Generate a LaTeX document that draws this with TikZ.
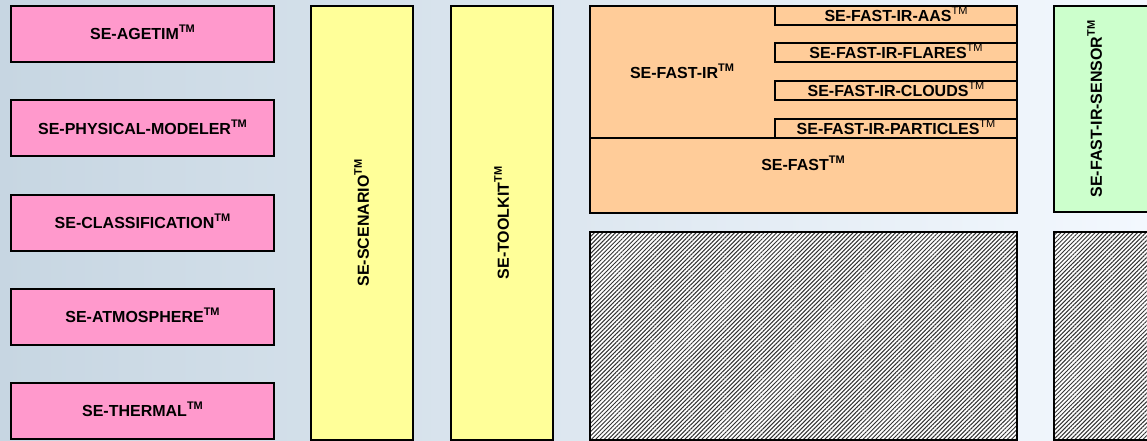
\documentclass[tikz,border=0pt]{standalone}
\usepackage{fontspec}
\setmainfont{Liberation Sans}
\usetikzlibrary{patterns.meta}
\definecolor{sepink}{RGB}{255,153,204}
\definecolor{seyellow}{RGB}{255,255,153}
\definecolor{seorange}{RGB}{255,204,153}
\definecolor{segreen}{RGB}{204,255,204}
\definecolor{bgleft}{RGB}{199,214,226}
\definecolor{bgright}{RGB}{243,248,254}
\newcommand{\tmb}{\raisebox{7pt}{\fontsize{11}{11}\selectfont\bfseries TM}}
\newcommand{\tml}{\raisebox{7pt}{\fontsize{11}{11}\selectfont\mdseries TM}}

\begin{document}
\begin{tikzpicture}[x=1pt,y=-1pt,
  sebox/.style={draw=black,line width=2pt,inner sep=0pt,
    font=\fontsize{16}{19}\selectfont\bfseries,text=black},
  modbox/.style={sebox,fill=sepink,minimum width=263pt,minimum height=56pt,
    text height=11.5pt,text depth=0pt},
  toolbox/.style={sebox,fill=seyellow,rotate=90,minimum width=434pt,minimum height=102pt},
  fastbox/.style={sebox,fill=seorange,minimum width=427pt},
  tabbox/.style={sebox,fill=seorange,minimum width=242pt,minimum height=19pt,
    text height=11.5pt,text depth=0pt},
  selabel/.style={inner sep=0pt,font=\fontsize{16}{19}\selectfont\bfseries,text=black,
    text height=11.5pt,text depth=0pt},
  hatchbox/.style={sebox,preaction={fill=white},
    pattern={Lines[angle=45,distance=3pt,line width=1pt]},pattern color=black!80}
]
  \useasboundingbox (0,0) rectangle (1147,441);
  \clip (0,0) rectangle (1147,441);
  \shade[left color=bgleft,right color=bgright] (0,0) rectangle (1147,441);

  % Modules column
  \node[modbox] (agetim)   at (142.5,34)     {SE-AGETIM\tmb};
  \node[modbox] (physical) at (142.5,128.25) {SE-PHYSICAL-MODELER\tmb};
  \node[modbox] (classif)  at (142.5,222.5)  {SE-CLASSIFICATION\tmb};
  \node[modbox] (atmos)    at (142.5,316.75) {SE-ATMOSPHERE\tmb};
  \node[modbox] (thermal)  at (142.5,411)    {SE-THERMAL\tmb};

  % Vertical bars
  \node[toolbox] (scenario) at (361.7,223) {SE-SCENARIO\tmb};
  \node[toolbox] (toolkit)  at (501.7,223) {SE-TOOLKIT\tmb};

  % FAST block
  \node[fastbox,minimum height=131.7pt] (fastir) at (803.5,71.85) {};
  \node[fastbox,minimum height=75pt]    (fast)   at (803.5,175.2) {};
  \node[selabel] (fastirlbl) at (682,73)  {SE-FAST-IR\tmb};
  \node[selabel] (fastlbl)   at (803,165) {SE-FAST\tmb};
  \node[tabbox] (aas)       at (896,15.5)  {SE-FAST-IR-AAS\tml};
  \node[tabbox] (flares)    at (896,52.5)  {SE-FAST-IR-FLARES\tml};
  \node[tabbox] (clouds)    at (896,90.5)  {SE-FAST-IR-CLOUDS\tml};
  \node[tabbox] (particles) at (896,128.5) {SE-FAST-IR-PARTICLES\tml};

  % Sensor block
  \node[sebox,fill=segreen,minimum width=106pt,minimum height=206pt] (sensor) at (1107,109) {};
  \node[selabel,rotate=90] (sensorlbl) at (1096,109) {SE-FAST-IR-SENSOR\tmb};

  % Hatched areas
  \node[hatchbox,minimum width=427pt,minimum height=208pt] (hatchleft)  at (803.5,336) {};
  \node[hatchbox,minimum width=107pt,minimum height=208pt] (hatchright) at (1107,336) {};
\end{tikzpicture}
\end{document}
